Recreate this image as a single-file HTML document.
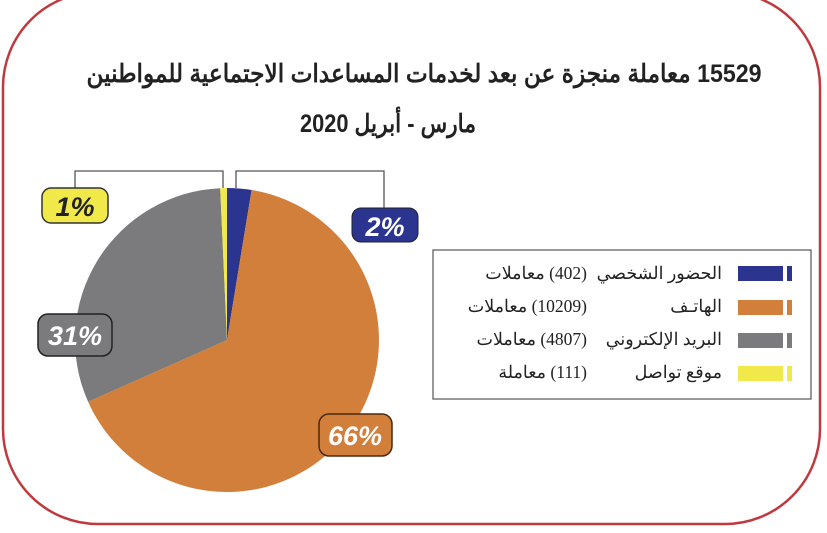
<!DOCTYPE html>
<html><head><meta charset="utf-8"><style>
body{margin:0;background:#fff;width:827px;height:533px;overflow:hidden;position:relative;}
svg{display:block;position:absolute;left:0;top:0}
.lg{position:absolute;direction:rtl;font-family:"Liberation Serif","Noto Serif CJK SC",serif;font-size:17.5px;color:#222;white-space:nowrap;line-height:22px}
</style></head><body>
<svg width="827" height="533" viewBox="0 0 827 533" xmlns="http://www.w3.org/2000/svg">
<rect x="3" y="-8" width="817" height="532" rx="95" ry="95" fill="#fff" stroke="#c0393e" stroke-width="2.5"/>
<text x="424" y="82" text-anchor="middle" textLength="675" lengthAdjust="spacingAndGlyphs" font-family="Liberation Sans, 'Noto Sans CJK SC', sans-serif" font-size="25" font-weight="bold" fill="#222" direction="rtl">15529 معاملة منجزة عن بعد لخدمات المساعدات الاجتماعية للمواطنين</text>
<text x="388" y="132" text-anchor="middle" textLength="176" lengthAdjust="spacingAndGlyphs" font-family="Liberation Sans, 'Noto Sans CJK SC', sans-serif" font-size="25" font-weight="bold" fill="#222" direction="rtl">مارس - أبريل 2020</text>
<path d="M227,340 L227,188 A152,152 0 0 1 251.6,190 Z" fill="#2b3590"/>
<path d="M227,340 L251.6,190 A152,152 0 1 1 88.1,401.8 Z" fill="#d27f3b"/>
<path d="M227,340 L88.1,401.8 A152,152 0 0 1 220.2,188.2 Z" fill="#7b7a7c"/>
<path d="M227,340 L220.2,188.2 A152,152 0 0 1 227,188 Z" fill="#f1e84a"/>
<polyline points="223,188 223,171 75,171 75,188" fill="none" stroke="#555" stroke-width="1.3"/>
<polyline points="236,188 236,171 384,171 384,208" fill="none" stroke="#555" stroke-width="1.3"/>
<g font-family="Liberation Sans, sans-serif" font-weight="bold" font-style="italic" font-size="27">
<rect x="42" y="188" width="66" height="35" rx="9" fill="#f1e84a" stroke="#333" stroke-width="1.5"/>
<text x="75" y="216" text-anchor="middle" fill="#222">1%</text>
<rect x="352" y="208" width="66" height="34" rx="9" fill="#2b3590" stroke="#222" stroke-width="1"/>
<text x="385" y="236" text-anchor="middle" fill="#fff">2%</text>
<rect x="38" y="314" width="74" height="42" rx="10" fill="#7b7a7c" stroke="#222" stroke-width="1.5"/>
<text x="75" y="345" text-anchor="middle" fill="#fff">31%</text>
<rect x="319" y="414" width="73" height="42" rx="10" fill="#d27f3b" stroke="#4a2a10" stroke-width="1.5"/>
<text x="355" y="445" text-anchor="middle" fill="#fff">66%</text>
</g>
<rect x="433" y="250" width="378" height="149" fill="#fff" stroke="#555" stroke-width="1.2"/>
<rect x="738" y="266" width="45" height="15" fill="#2b3590"/><rect x="787" y="266" width="5" height="15" fill="#2b3590"/>
<rect x="738" y="300" width="45" height="15" fill="#d27f3b"/><rect x="787" y="300" width="5" height="15" fill="#d27f3b"/>
<rect x="738" y="333" width="45" height="15" fill="#7b7a7c"/><rect x="787" y="333" width="5" height="15" fill="#7b7a7c"/>
<rect x="738" y="366" width="45" height="15" fill="#f1e84a"/><rect x="787" y="366" width="5" height="15" fill="#f1e84a"/>
</svg>
<div class="lg" style="right:105px;top:262px">الحضور الشخصي</div>
<div class="lg" style="right:105px;top:295px">الهاتـف</div>
<div class="lg" style="right:105px;top:328px">البريد الإلكتروني</div>
<div class="lg" style="right:105px;top:361px">موقع تواصل</div>
<div class="lg" style="right:240px;top:262px">(402) معاملات</div>
<div class="lg" style="right:240px;top:295px">(10209) معاملات</div>
<div class="lg" style="right:240px;top:328px">(4807) معاملات</div>
<div class="lg" style="right:240px;top:361px">(111) معاملة</div>
</body></html>
